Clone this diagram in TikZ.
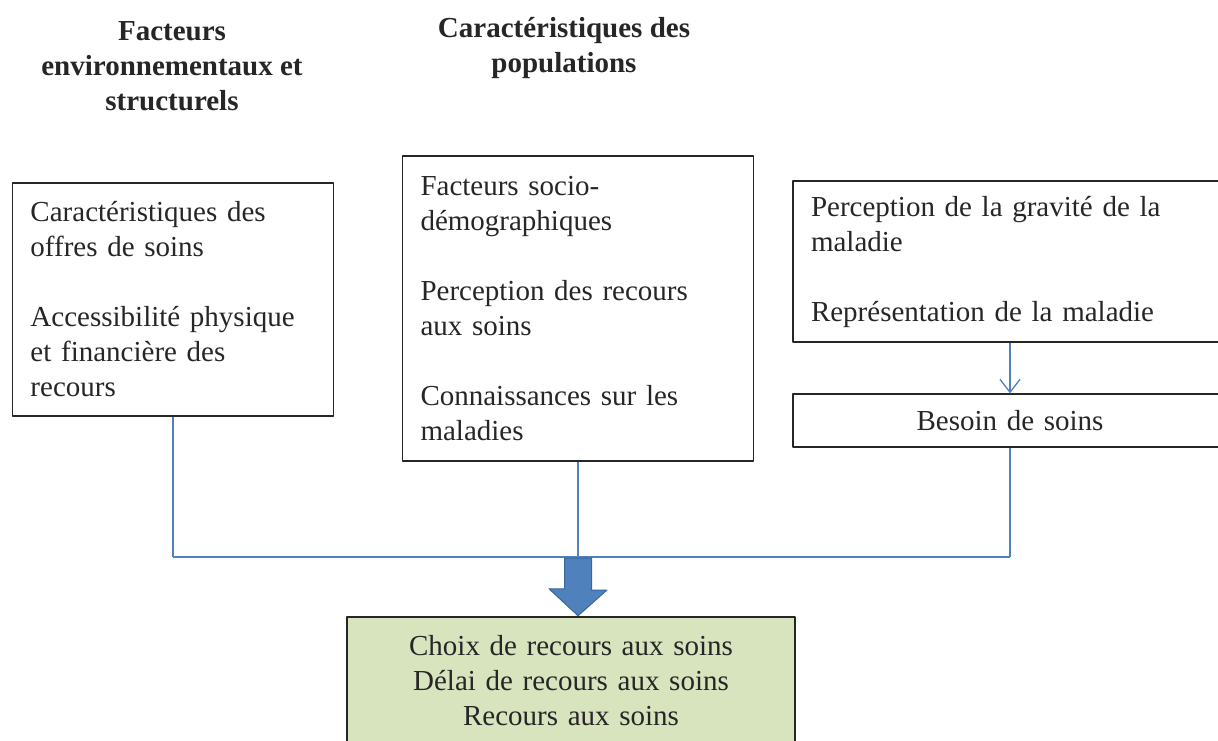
\documentclass[tikz,border=0pt]{standalone}
\usepackage{fontspec}
\setmainfont{Liberation Serif}
\usetikzlibrary{arrows.meta}
\definecolor{lineblue}{HTML}{4F81BD}
\definecolor{arrowedge}{HTML}{3C6696}
\definecolor{resultgreen}{HTML}{D7E4BD}
\begin{document}
\begin{tikzpicture}[x = 1pt, y = -1pt, line join = round,
  every node/.style = {font = \fontsize{29}{35}\selectfont, text = black!85},
  head/.style = {font = \fontsize{29}{35}\selectfont\bfseries, align = center, inner sep = 0pt},
  box/.style = {draw = black!85, line width = 1.3pt, align = left, inner xsep = 18pt, inner ysep = 0pt},
  link/.style = {draw = lineblue, line width = 1.3pt},
  bigarrow/.style = {fill = lineblue, draw = arrowedge, line width = 1pt}]
\useasboundingbox (0,0) rectangle (1218,740);

% column headings
\node [head, anchor = north] (envhead) at (172,21.5) {Facteurs\\environnementaux et\\structurels};
\node [head, anchor = north] (pophead) at (564,17.5) {Caractéristiques des\\populations};

% factor boxes
\node [box, text width = 285pt, minimum height = 233pt] (env) at (173,299.5)
  {Caractéristiques des\\offres de soins\\[35pt]Accessibilité physique\\et financière des\\recours};
\node [box, text width = 315pt, minimum height = 305pt] (pop) at (578,308.5)
  {Facteurs socio-\\démographiques\\[35pt]Perception des recours\\aux soins\\[35pt]Connaissances sur les\\maladies};
\node [box, text width = 398pt, minimum height = 161pt] (grav) at (1010,261.5)
  {Perception de la gravité de la\\maladie\\[35pt]Représentation de la maladie};
\node [box, align = center, text width = 398pt, minimum height = 53pt] (besoin) at (1010,420.5)
  {Besoin de soins};
\node [box, align = center, fill = resultgreen, line width = 2.5pt, text width = 412pt, minimum height = 128pt] (choix) at (571,681)
  {Choix de recours aux soins\\Délai de recours aux soins\\Recours aux soins};

\draw [link, -{Straight Barb[length = 13pt, width = 20pt]}] (grav) -- (besoin);

% collecting line
\coordinate (bus) at (0,557);
\foreach \b in {env, pop, besoin}{
  \draw [link] (\b.south) -- (\b.south |- bus);
}
\draw [link] (env.south |- bus) -- (besoin.south |- bus);

\coordinate (arrowtop) at (pop.south |- bus);
\filldraw [bigarrow] (arrowtop) ++(-13.5,1) -- ++(27,0) -- ++(0,32) -- ++(15.5,0)
  -- (arrowtop |- choix.north) -- ++(-29,-27) -- ++(15.5,0) -- cycle;
\end{tikzpicture}
\end{document}
